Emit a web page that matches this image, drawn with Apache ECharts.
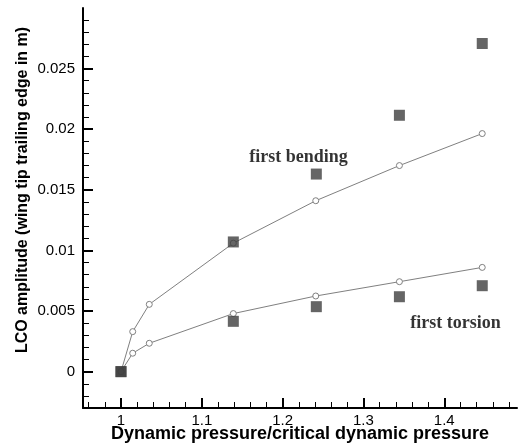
<!DOCTYPE html>
<html>
<head>
<meta charset="utf-8">
<script src="https://cdn.jsdelivr.net/npm/echarts@6/dist/echarts.min.js"></script>
<style>
  html, body { margin: 0; padding: 0; background: #ffffff; }
  #chart { width: 518px; height: 448px; }
</style>
</head>
<body>
<div id="chart"></div>
<script>
// Dynamic pressure ratios of the computed LCO cases
const qRatioCalc = [1.0, 1.0145, 1.035, 1.139, 1.241, 1.3445, 1.447];
// Computed LCO amplitudes (m)
const bendingCalc = [0, 0.0033, 0.00555, 0.0106, 0.0141, 0.0170, 0.01964];
const torsionCalc = [0, 0.00152, 0.00234, 0.00479, 0.00624, 0.00742, 0.0086];

// Dynamic pressure ratios of the measured cases
const qRatioExp = [1.0, 1.139, 1.2417, 1.3445, 1.447];
// Measured LCO amplitudes (m)
const bendingExp = [0, 0.0107, 0.0163, 0.02115, 0.02707];
const torsionExp = [0, 0.00415, 0.00536, 0.00618, 0.00709];

// Axis ticks
const xTickLabels = ['1', '1.1', '1.2', '1.3', '1.4'];
const yTickLabels = ['0', '0.005', '0.01', '0.015', '0.02', '0.025'];
const xMinorTicks = [0.96, 0.98, 1.02, 1.04, 1.06, 1.08, 1.12, 1.14, 1.16, 1.18,
  1.22, 1.24, 1.26, 1.28, 1.32, 1.34, 1.36, 1.38, 1.42, 1.44, 1.46, 1.48];
const yMinorTicks = [-0.002, -0.001, 0.001, 0.002, 0.003, 0.004, 0.006, 0.007, 0.008, 0.009,
  0.011, 0.012, 0.013, 0.014, 0.016, 0.017, 0.018, 0.019, 0.021, 0.022, 0.023, 0.024,
  0.026, 0.027, 0.028, 0.029];

// Mode annotations
const modeLabels = [
  { name: 'first bending', value: [1.2197, 0.01772] },
  { name: 'first torsion', value: [1.414, 0.00396] }
];

const xMajor = xTickLabels.map(Number);
const yMajor = yTickLabels.map(Number);
const sans = 'Liberation Sans, Arial, Helvetica, sans-serif';
const serif = 'Liberation Serif, Times New Roman, serif';
const X_MIN = 0.953, X_MAX = 1.49, Y_MIN = -0.003, Y_MAX = 0.03;

const pair = (xs, ys) => xs.map((x, i) => [x, ys[i]]);

const chart = echarts.init(document.getElementById('chart'), null, { renderer: 'canvas' });

const lineStyle = { color: '#808080', width: 1 };
const circleStyle = { color: '#ffffff', borderColor: '#808080', borderWidth: 1 };
const squareStyle = { color: '#3f3f3f' };

chart.setOption({
  animation: false,
  backgroundColor: '#ffffff',
  grid: { left: 83, right: 1, top: 8, bottom: 40, containLabel: false, outerBoundsMode: 'none' },
  xAxis: [
    {
      type: 'value', min: X_MIN, max: X_MAX, position: 'bottom',
      name: 'Dynamic pressure/critical dynamic pressure',
      nameLocation: 'middle', nameGap: 17, nameMoveOverlap: false,
      nameTextStyle: { fontFamily: sans, fontWeight: 'bold', fontSize: 18, color: '#000' },
      axisLine: { show: true, onZero: false, lineStyle: { color: '#000', width: 2 } },
      axisTick: { show: true, inside: true, length: 10, customValues: xMajor,
        lineStyle: { color: '#000', width: 2 } },
      axisLabel: { show: true, customValues: xMajor, margin: 5,
        fontFamily: sans, fontSize: 15, color: '#000',
        formatter: v => xTickLabels[xMajor.indexOf(v)] },
      splitLine: { show: false }
    },
    {
      type: 'value', min: X_MIN, max: X_MAX, position: 'bottom',
      axisLine: { show: false, onZero: false },
      axisTick: { show: true, inside: true, length: 6, customValues: xMinorTicks,
        lineStyle: { color: '#000', width: 1 } },
      axisLabel: { show: false, customValues: xMinorTicks },
      splitLine: { show: false }
    }
  ],
  yAxis: [
    {
      type: 'value', min: Y_MIN, max: Y_MAX, position: 'left',
      axisLine: { show: true, onZero: false, lineStyle: { color: '#000', width: 2 } },
      axisTick: { show: true, inside: true, length: 10, customValues: yMajor,
        lineStyle: { color: '#000', width: 2 } },
      axisLabel: { show: true, customValues: yMajor, margin: 8,
        fontFamily: sans, fontSize: 15, color: '#000',
        formatter: v => yTickLabels[yMajor.indexOf(v)] },
      splitLine: { show: false }
    },
    {
      type: 'value', min: Y_MIN, max: Y_MAX, position: 'left',
      axisLine: { show: false, onZero: false },
      axisTick: { show: true, inside: true, length: 6, customValues: yMinorTicks,
        lineStyle: { color: '#000', width: 1 } },
      axisLabel: { show: false, customValues: yMinorTicks },
      splitLine: { show: false }
    }
  ],
  graphic: [
    {
      type: 'text', x: 23, y: 190, rotation: Math.PI / 2,
      style: {
        text: 'LCO amplitude (wing tip trailing edge in m)',
        font: 'bold 16px ' + sans, fill: '#000',
        textAlign: 'center', textVerticalAlign: 'middle'
      }
    }
  ],
  series: [
    {
      name: 'first bending (computed)', type: 'line', xAxisIndex: 0, yAxisIndex: 0,
      data: pair(qRatioCalc, bendingCalc), z: 2,
      symbol: 'circle', symbolSize: 6, showAllSymbol: true,
      lineStyle: lineStyle, itemStyle: circleStyle
    },
    {
      name: 'first torsion (computed)', type: 'line', xAxisIndex: 0, yAxisIndex: 0,
      data: pair(qRatioCalc, torsionCalc), z: 2,
      symbol: 'circle', symbolSize: 6, showAllSymbol: true,
      lineStyle: lineStyle, itemStyle: circleStyle
    },
    {
      name: 'first bending (measured)', type: 'scatter', xAxisIndex: 0, yAxisIndex: 0,
      data: pair(qRatioExp, bendingExp), z: 3,
      symbol: 'rect', symbolSize: 11, itemStyle: squareStyle
    },
    {
      name: 'first torsion (measured)', type: 'scatter', xAxisIndex: 0, yAxisIndex: 0,
      data: pair(qRatioExp, torsionExp), z: 3,
      symbol: 'rect', symbolSize: 11, itemStyle: squareStyle
    },
    {
      name: 'mode labels', type: 'scatter', xAxisIndex: 0, yAxisIndex: 0,
      data: modeLabels, symbolSize: 0, z: 4, silent: true,
      label: { show: true, position: 'inside', formatter: '{b}',
        fontFamily: serif, fontWeight: 'bold', fontSize: 18, color: '#000' }
    }
  ]
});
</script>
</body>
</html>
